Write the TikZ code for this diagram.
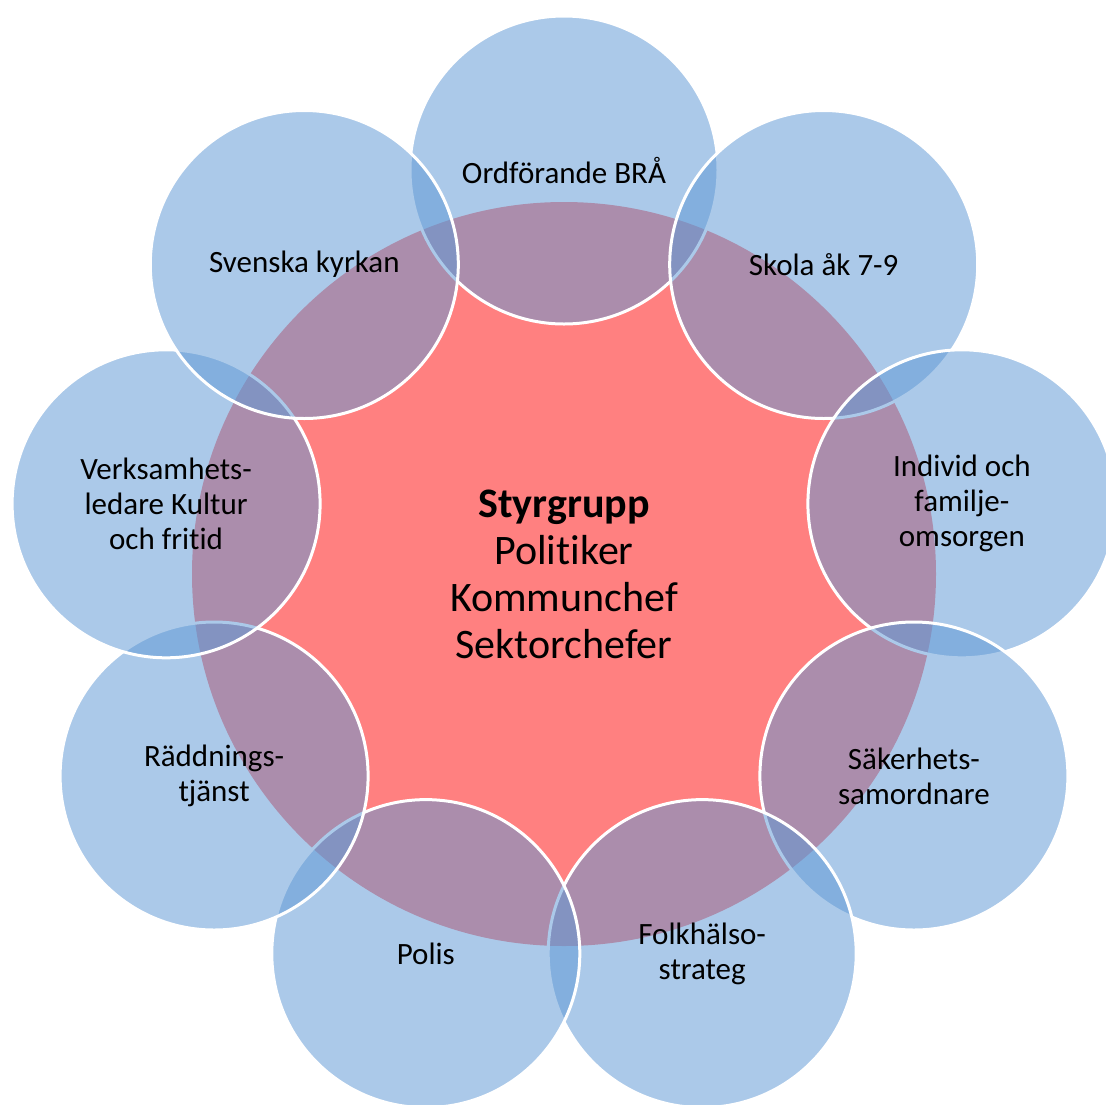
\documentclass[tikz,border=0pt]{standalone}
\usepackage{fontspec}
\setmainfont{Carlito}[Ligatures=NoCommon]
\definecolor{hubred}{RGB}{255,128,128}
\definecolor{satblue}{RGB}{95,153,213}
\begin{document}
\begin{tikzpicture}[x=1pt,y=-1pt,
  hub/.style={circle,minimum size=744pt,inner sep=0pt,fill=hubred,
    align=center,font=\fontsize{42}{47}\selectfont},
  sat/.style={circle,minimum size=308pt,inner sep=0pt,fill=satblue,
    fill opacity=0.52,text opacity=1,draw=white,line width=3pt,
    align=center,font=\fontsize{31}{35}\selectfont}]
\clip (0,0) rectangle (1106,1104);
\fill[white] (0,0) rectangle (1106,1104);
\node[hub] (hub) at (564,574) {\textbf{Styrgrupp}\\Politiker\\Kommunchef\\Sektorchefer};
\node[sat] (s0) at (564,170) {Ordförande BRÅ};
\node[sat] (s1) at (823.7,264.5) {Skola åk 7-9};
\node[sat] (s2) at (961.9,503.8) {Individ och\\familje-\\omsorgen};
\node[sat] (s3) at (913.9,776) {Säkerhets-\\samordnare};
\node[sat] (s4) at (702.2,953.6) {Folkhälso-\\strateg};
\node[sat] (s5) at (425.8,953.6) {Polis};
\node[sat] (s6) at (214.1,776) {Räddnings-\\tjänst};
\node[sat] (s7) at (166.1,503.8) {Verksamhets-\\ledare Kultur\\och fritid};
\node[sat] (s8) at (304.3,264.5) {Svenska kyrkan};
\end{tikzpicture}
\end{document}
